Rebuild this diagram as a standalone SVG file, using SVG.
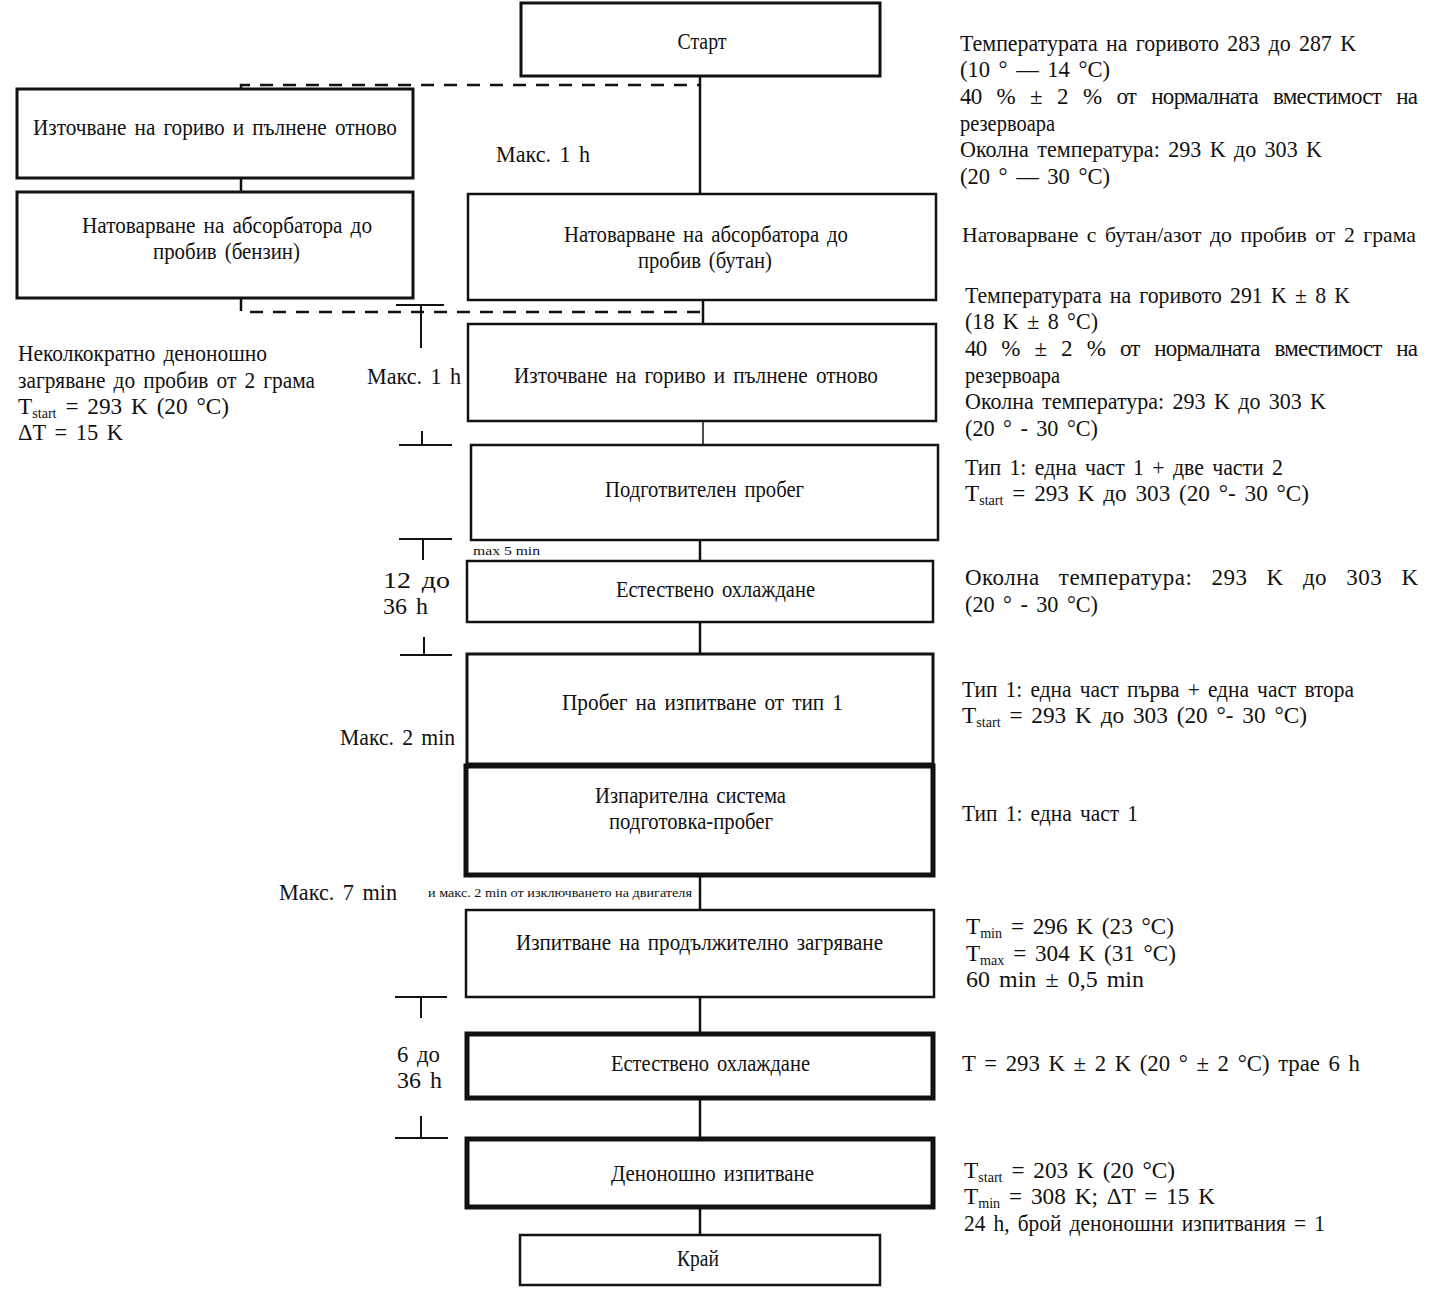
<svg xmlns="http://www.w3.org/2000/svg" width="1434" height="1304" viewBox="0 0 1434 1304">
<style>
.b{fill:#fff;stroke:#111;stroke-width:2.5}
.bk{fill:#fff;stroke:#111;stroke-width:5}
.c{stroke:#111;stroke-width:2.5;fill:none}
.d{stroke:#111;stroke-width:2.5;fill:none;stroke-dasharray:13 10}
.k{stroke:#111;stroke-width:2;fill:none}
text{font-family:"Liberation Serif","Times New Roman",serif;font-size:23px;fill:#111;word-spacing:3px}
.s{font-size:12px;word-spacing:0}
.m{text-anchor:middle}
.j{word-spacing:10px}
.jj{word-spacing:13px}
</style>
<rect width="1434" height="1304" fill="#fff"/>
<g id="connectors">
<path class="d" d="M241 89 V85 H700"/>
<path class="d" d="M241 298 V312 H703"/>
<path class="c" d="M241 178 V192"/>
<path class="c" d="M700 76 V194"/>
<path class="c" d="M703 300 V324"/>
<path class="c" d="M703 421 V445" style="stroke-width:1.5"/>
<path class="c" d="M700 540 V561"/>
<path class="c" d="M700 622 V654"/>
<path class="c" d="M700 876 V910"/>
<path class="c" d="M700 997 V1033"/>
<path class="c" d="M700 1099 V1138"/>
<path class="c" d="M700 1208 V1235"/>
</g>
<g id="brackets">
<path class="k" d="M396 305 H444 M421 305 V348"/>
<path class="k" d="M399 445 H452 M422 431 V445"/>
<path class="k" d="M399 539 H452 M423 539 V560"/>
<path class="k" d="M400 655 H452 M424 637 V655"/>
<path class="k" d="M395 997 H447 M421 997 V1018"/>
<path class="k" d="M395 1138 H448 M421 1116 V1138"/>
</g>
<g id="n-start"><rect class="b" x="521" y="3" width="359" height="73" style="stroke-width:3"/><text class="m" x="702" y="49" textLength="49" lengthAdjust="spacingAndGlyphs">Старт</text></g>
<g id="n-left1"><rect class="b" x="17" y="89" width="396" height="89" style="stroke-width:3"/><text x="33" y="135" textLength="364" lengthAdjust="spacingAndGlyphs">Източване на гориво и пълнене отново</text></g>
<g id="n-left2"><rect class="b" x="17" y="192" width="396" height="106" style="stroke-width:3"/><text x="82" y="233" textLength="290" lengthAdjust="spacingAndGlyphs">Натоварване на абсорбатора до</text><text x="153" y="259" textLength="147" lengthAdjust="spacingAndGlyphs">пробив (бензин)</text></g>
<g id="n-load"><rect class="b" x="468" y="194" width="468" height="106"/><text x="564" y="242" textLength="284" lengthAdjust="spacingAndGlyphs">Натоварване на абсорбатора до</text><text x="638" y="268" textLength="134" lengthAdjust="spacingAndGlyphs">пробив (бутан)</text></g>
<g id="n-drain"><rect class="b" x="468" y="324" width="468" height="97"/><text x="514" y="383" textLength="364" lengthAdjust="spacingAndGlyphs">Източване на гориво и пълнене отново</text></g>
<g id="n-prep"><rect class="b" x="471" y="445" width="467" height="95"/><text x="605" y="497" textLength="199" lengthAdjust="spacingAndGlyphs">Подготвителен пробег</text></g>
<g id="n-cool1"><rect class="b" x="467" y="561" width="466" height="61"/><text x="616" y="597" textLength="199" lengthAdjust="spacingAndGlyphs">Естествено охлаждане</text></g>
<g id="n-run"><rect class="b" x="467" y="654" width="466" height="110" style="stroke-width:3"/><text x="562" y="710" textLength="281" lengthAdjust="spacingAndGlyphs">Пробег на изпитване от тип 1</text></g>
<g id="n-evap"><rect class="bk" x="466" y="766" width="467" height="109"/><text x="595" y="803" textLength="191" lengthAdjust="spacingAndGlyphs">Изпарителна система</text><text x="609" y="829" textLength="164" lengthAdjust="spacingAndGlyphs">подготовка-пробег</text></g>
<g id="n-soak"><rect class="b" x="466" y="910" width="468" height="87"/><text x="516" y="950" textLength="367" lengthAdjust="spacingAndGlyphs">Изпитване на продължително загряване</text></g>
<g id="n-cool2"><rect class="bk" x="467" y="1034" width="466" height="64"/><text x="611" y="1071" textLength="199" lengthAdjust="spacingAndGlyphs">Естествено охлаждане</text></g>
<g id="n-diurnal"><rect class="bk" x="467" y="1139" width="466" height="68"/><text x="611" y="1181" textLength="203" lengthAdjust="spacingAndGlyphs">Деноношно изпитване</text></g>
<g id="n-end"><rect class="b" x="520" y="1235" width="360" height="50"/><text x="677" y="1266" textLength="42" lengthAdjust="spacingAndGlyphs">Край</text></g>
<g id="labels-left">
<text x="496" y="162" textLength="94" lengthAdjust="spacingAndGlyphs">Макс. 1 h</text>
<text x="18" y="361" textLength="249" lengthAdjust="spacingAndGlyphs">Неколкократно деноношно</text>
<text x="18" y="388" textLength="297" lengthAdjust="spacingAndGlyphs">загряване до пробив от 2 грама</text>
<text x="18" y="414" textLength="211" lengthAdjust="spacingAndGlyphs">T<tspan font-size="14" dy="4">start</tspan><tspan dy="-4"> = 293 K (20 °C)</tspan></text>
<text x="18" y="440" textLength="105" lengthAdjust="spacingAndGlyphs">ΔT = 15 K</text>
<text x="367" y="384" textLength="94" lengthAdjust="spacingAndGlyphs">Макс. 1 h</text>
<text x="383" y="588" textLength="67" lengthAdjust="spacingAndGlyphs">12  до</text>
<text x="383" y="614" textLength="45" lengthAdjust="spacingAndGlyphs">36 h</text>
<text x="340" y="745" textLength="115" lengthAdjust="spacingAndGlyphs">Макс. 2 min</text>
<text x="279" y="900" textLength="118" lengthAdjust="spacingAndGlyphs">Макс. 7 min</text>
<text x="397" y="1062" textLength="43" lengthAdjust="spacingAndGlyphs">6 до</text>
<text x="397" y="1088" textLength="45" lengthAdjust="spacingAndGlyphs">36 h</text>
<text class="s" x="473" y="555" textLength="67" lengthAdjust="spacingAndGlyphs">max 5 min</text>
<text class="s" x="428" y="897" textLength="264" lengthAdjust="spacingAndGlyphs">и макс. 2 min от изключването на двигателя</text>
</g>
<g id="labels-right">
<text x="960" y="51" textLength="396" lengthAdjust="spacingAndGlyphs">Температурата на горивото 283 до 287 K</text>
<text x="960" y="77" textLength="150" lengthAdjust="spacingAndGlyphs">(10 ° — 14 °C)</text>
<text class="j" x="960" y="104" textLength="458" lengthAdjust="spacing">40 % ± 2 % от нормалната вместимост на</text>
<text x="960" y="131" textLength="95" lengthAdjust="spacingAndGlyphs">резервоара</text>
<text x="960" y="157" textLength="362" lengthAdjust="spacingAndGlyphs">Околна температура: 293 K до 303 K</text>
<text x="960" y="184" textLength="150" lengthAdjust="spacingAndGlyphs">(20 ° — 30 °C)</text>
<text x="962" y="242" style="font-size:21px" textLength="454" lengthAdjust="spacingAndGlyphs">Натоварване с бутан/азот до пробив от 2 грама</text>
<text x="965" y="303" textLength="385" lengthAdjust="spacingAndGlyphs">Температурата на горивото 291 K ± 8 K</text>
<text x="965" y="329" textLength="133" lengthAdjust="spacingAndGlyphs">(18 K ± 8 °C)</text>
<text class="j" x="965" y="356" textLength="453" lengthAdjust="spacing">40 % ± 2 % от нормалната вместимост на</text>
<text x="965" y="383" textLength="95" lengthAdjust="spacingAndGlyphs">резервоара</text>
<text x="965" y="409" textLength="361" lengthAdjust="spacingAndGlyphs">Околна температура: 293 K до 303 K</text>
<text x="965" y="436" textLength="133" lengthAdjust="spacingAndGlyphs">(20 ° - 30 °C)</text>
<text x="965" y="475" textLength="318" lengthAdjust="spacingAndGlyphs">Тип 1: една част 1 + две части 2</text>
<text x="965" y="501" textLength="344" lengthAdjust="spacingAndGlyphs">T<tspan font-size="14" dy="4">start</tspan><tspan dy="-4"> = 293 K до 303 (20 °- 30 °C)</tspan></text>
<text class="jj" x="965" y="585" textLength="453" lengthAdjust="spacing">Околна температура: 293 K до 303 K</text>
<text x="965" y="612" textLength="133" lengthAdjust="spacingAndGlyphs">(20 ° - 30 °C)</text>
<text x="962" y="697" textLength="392" lengthAdjust="spacingAndGlyphs">Тип 1: една част първа + една част втора</text>
<text x="962" y="723" textLength="345" lengthAdjust="spacingAndGlyphs">T<tspan font-size="14" dy="4">start</tspan><tspan dy="-4"> = 293 K до 303 (20 °- 30 °C)</tspan></text>
<text x="962" y="821" textLength="176" lengthAdjust="spacingAndGlyphs">Тип 1: една част 1</text>
<text x="966" y="934" textLength="208" lengthAdjust="spacingAndGlyphs">T<tspan font-size="14" dy="4">min</tspan><tspan dy="-4"> = 296 K (23 °C)</tspan></text>
<text x="966" y="961" textLength="210" lengthAdjust="spacingAndGlyphs">T<tspan font-size="14" dy="4">max</tspan><tspan dy="-4"> = 304 K (31 °C)</tspan></text>
<text x="966" y="987" textLength="178" lengthAdjust="spacingAndGlyphs">60 min ± 0,5 min</text>
<text x="962" y="1071" textLength="398" lengthAdjust="spacingAndGlyphs">T = 293 K ± 2 K (20 ° ± 2 °C) трае 6 h</text>
<text x="964" y="1178" textLength="211" lengthAdjust="spacingAndGlyphs">T<tspan font-size="14" dy="4">start</tspan><tspan dy="-4"> = 203 K (20 °C)</tspan></text>
<text x="964" y="1204" textLength="251" lengthAdjust="spacingAndGlyphs">T<tspan font-size="14" dy="4">min</tspan><tspan dy="-4"> = 308 K; ΔT = 15 K</tspan></text>
<text x="964" y="1231" textLength="361" lengthAdjust="spacingAndGlyphs">24 h, брой деноношни изпитвания = 1</text>
</g>
</svg>
